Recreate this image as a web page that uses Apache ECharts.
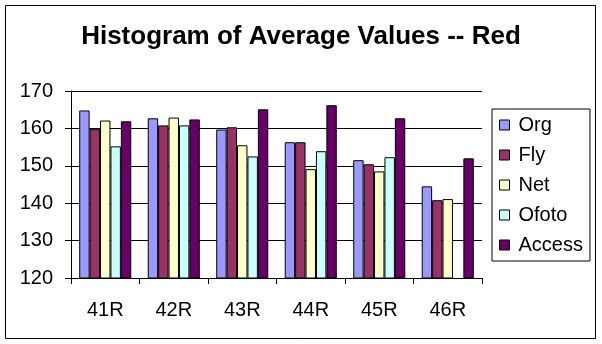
<!DOCTYPE html>
<html>
<head>
<meta charset="utf-8">
<script src="https://cdn.jsdelivr.net/npm/echarts@6/dist/echarts.min.js"></script>
<style>
html,body{margin:0;padding:0;background:#fff;}
#chart{width:602px;height:344px;}
</style>
</head>
<body>
<div id="chart"></div>
<script>
const titleText = 'Histogram of Average Values -- Red';
const categories = ['41R', '42R', '43R', '44R', '45R', '46R'];
const seriesNames = ['Org', 'Fly', 'Net', 'Ofoto', 'Access'];
const orgValues    = [164.8, 162.7, 159.7, 156.3, 151.5, 144.5];
const flyValues    = [159.8, 160.8, 160.3, 156.3, 150.4, 140.8];
const netValues    = [162.1, 162.9, 155.5, 149.1, 148.5, 141.1];
const ofotoValues  = [155.2, 160.8, 152.5, 153.9, 152.3, null];
const accessValues = [161.9, 162.4, 165.1, 166.2, 162.7, 152.0];
const yTicks = [120, 130, 140, 150, 160, 170];

const colors = ['#9999FF', '#993366', '#FFFFCC', '#CCFFFF', '#660066'];
const allValues = [orgValues, flyValues, netValues, ofotoValues, accessValues];
const FONT = 'Liberation Sans, Arial, sans-serif';

const chart = echarts.init(document.getElementById('chart'), null, {renderer: 'canvas'});
chart.setOption({
  animation: false,
  backgroundColor: '#fff',
  title: {
    text: titleText, left: 'center', top: 19,
    textStyle: {fontFamily: FONT, fontSize: 26, fontWeight: 'bold', color: '#000'}
  },
  graphic: [{
    type: 'rect', shape: {x: 5.5, y: 5.5, width: 590, height: 333},
    style: {fill: 'none', stroke: '#000', lineWidth: 1}, silent: true, z: 100
  }],
  legend: {
    orient: 'vertical', left: 492, top: 109,
    data: seriesNames,
    itemWidth: 10, itemHeight: 10, itemGap: 10,
    padding: [6, 7, 6, 7],
    borderColor: '#000', borderWidth: 1,
    icon: 'rect',
    itemStyle: {borderColor: '#000', borderWidth: 1},
    textStyle: {fontFamily: FONT, fontSize: 20, color: '#000', padding: [0, 0, 0, 4], lineHeight: 20}
  },
  grid: {left: 71, right: 120, top: 91, bottom: 66, containLabel: false},
  xAxis: {
    type: 'category', data: categories,
    axisLine: {lineStyle: {color: '#000', width: 1}},
    axisTick: {show: true, length: 6, lineStyle: {color: '#000'}},
    axisLabel: {fontFamily: FONT, fontSize: 20, color: '#000', margin: 22},
    splitLine: {show: false}
  },
  yAxis: {
    type: 'value', min: yTicks[0], max: yTicks[yTicks.length - 1], interval: 10,
    axisLine: {show: true, lineStyle: {color: '#000', width: 1}},
    axisTick: {show: true, length: 6, lineStyle: {color: '#000'}},
    axisLabel: {fontFamily: FONT, fontSize: 20, color: '#000', margin: 18},
    splitLine: {show: true, lineStyle: {color: '#000', width: 1}}
  },
  series: seriesNames.map((name, i) => ({
    name: name, type: 'bar', data: allValues[i],
    barGap: '0%', barCategoryGap: '24%',
    itemStyle: {color: colors[i], borderColor: '#000', borderWidth: 1}
  }))
});
</script>
</body>
</html>
